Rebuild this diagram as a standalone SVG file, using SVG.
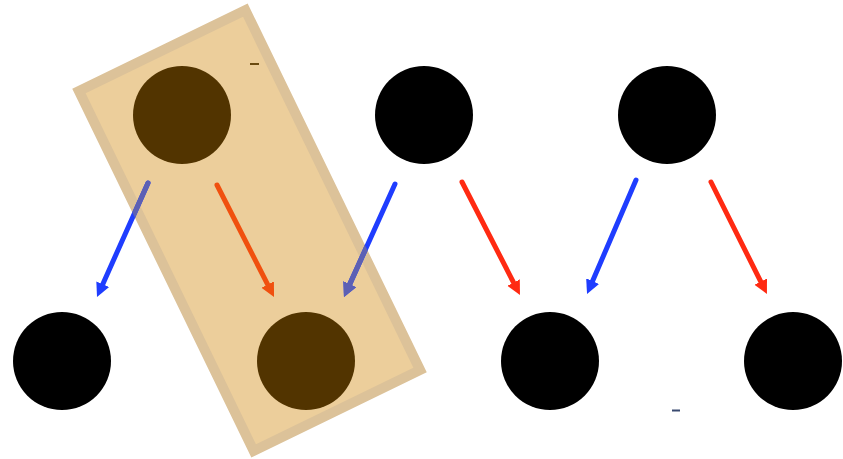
<svg xmlns="http://www.w3.org/2000/svg" width="843" height="459" viewBox="0 0 843 459">
<style>
.node{fill:#000}
.in{fill:#523400}
.box{fill:#ecce9b;stroke:#dcc299;stroke-width:10}
.e{stroke-width:5;stroke-linecap:round;fill:none}
.blue{stroke:#1f3dff}
.red{stroke:#ff2a12}
.orange{stroke:#f0500f}
.tint{stroke:#5c60b4}
</style>
<defs>
<marker id="hb" markerUnits="userSpaceOnUse" markerWidth="16" markerHeight="16" viewBox="0 -8 16 16" refX="4" refY="0" orient="auto"><path d="M0,-7 L14,0 L0,7 z" fill="#1f3dff"/></marker>
<marker id="hr" markerUnits="userSpaceOnUse" markerWidth="16" markerHeight="16" viewBox="0 -8 16 16" refX="4" refY="0" orient="auto"><path d="M0,-7 L14,0 L0,7 z" fill="#ff2a12"/></marker>
<marker id="ho" markerUnits="userSpaceOnUse" markerWidth="16" markerHeight="16" viewBox="0 -8 16 16" refX="4" refY="0" orient="auto"><path d="M0,-7 L14,0 L0,7 z" fill="#f0500f"/></marker>
<marker id="ht" markerUnits="userSpaceOnUse" markerWidth="16" markerHeight="16" viewBox="0 -8 16 16" refX="4" refY="0" orient="auto"><path d="M0,-7 L14,0 L0,7 z" fill="#5c60b4"/></marker>
<clipPath id="boxclip"><rect x="152" y="25.5" width="195" height="410" transform="rotate(-25.9 249.5 230.5)"/></clipPath>
</defs>
<g id="group-box">
<rect class="box" x="157" y="30.5" width="185" height="400" transform="rotate(-25.9 249.5 230.5)"/>
</g>
<g id="connectors">
<line class="e blue" x1="148" y1="183" x2="101.1" y2="287.9" marker-end="url(#hb)"/>
<line class="e orange" x1="217" y1="185" x2="269.5" y2="288.1" marker-end="url(#ho)"/>
<line class="e blue" x1="395" y1="184" x2="348.1" y2="287.9" marker-end="url(#hb)"/>
<line class="e red" x1="462" y1="182" x2="515.4" y2="286.1" marker-end="url(#hr)"/>
<line class="e blue" x1="636" y1="180" x2="591" y2="284.8" marker-end="url(#hb)"/>
<line class="e red" x1="711" y1="182" x2="762.5" y2="285.1" marker-end="url(#hr)"/>
<g clip-path="url(#boxclip)">
<line class="e tint" x1="148" y1="183" x2="101.1" y2="287.9" marker-end="url(#ht)"/>
<line class="e tint" x1="395" y1="184" x2="348.1" y2="287.9" marker-end="url(#ht)"/>
</g>
</g>
<g id="n1"><circle class="in" cx="182" cy="115" r="49"/></g>
<g id="n2"><circle class="node" cx="424" cy="115" r="49"/></g>
<g id="n3"><circle class="node" cx="667" cy="115" r="49"/></g>
<g id="n4"><circle class="node" cx="62" cy="361" r="49"/></g>
<g id="n5"><circle class="in" cx="306" cy="361" r="49"/></g>
<g id="n6"><circle class="node" cx="550" cy="361" r="49"/></g>
<g id="n7"><circle class="node" cx="793" cy="361" r="49"/></g>
<g id="marks">
<rect x="250" y="63" width="9" height="2" fill="#6a4a10"/>
<rect x="672" y="409.5" width="8" height="2" fill="#3a4a70"/>
</g>
</svg>
